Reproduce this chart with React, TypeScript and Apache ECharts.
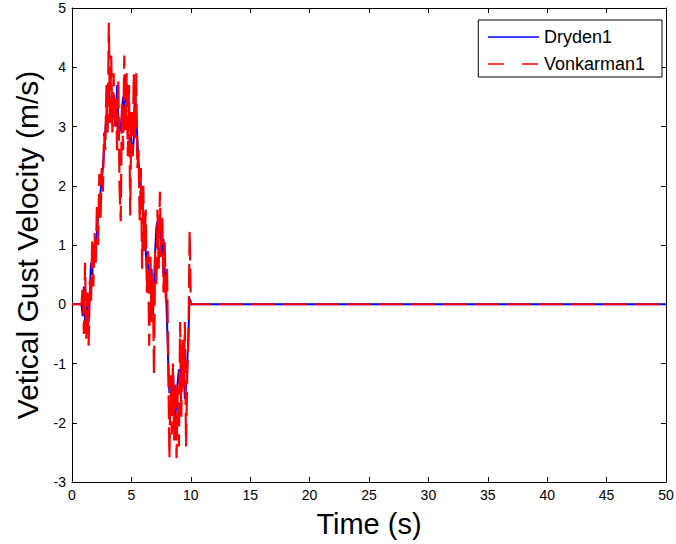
import React, { useEffect, useRef } from "react";
import * as echarts from "echarts";

// sample grid for the gust segment: 0.8 s .. 10.0 s, step 0.1 s
const gustStart = 0.8;
const gustStep = 0.1;
const timeEnd = 50;

const dryden1: number[] = [
  0, -0.2, 0.3, -0.3, -0.4, 0.1, -0.3, 0.2, 0.7, 0.5,
  0.9, 0.8, 1.1, 1.2, 1.5, 1.6, 1.9, 2.1, 2.3, 2.6,
  2.9, 3.2, 3.6, 3.7, 3.4, 3.3, 3.1, 3.4, 3.2, 3.0,
  3.7, 3.1, 2.9, 3.0, 3.2, 3.5, 3.3, 3.8, 3.4, 3.6,
  3.2, 3.0, 2.7, 2.5, 2.8, 3.6, 3.2, 2.8, 2.4, 2.2,
  2.0, 1.8, 1.5, 1.2, 0.9, 0.6, 0.9, 0.4, 0.2, 0.6,
  -0.2, 0.3, 0.9, 1.3, 1.4, 1.2, 1.5, 1.0, 0.8, 1.1,
  0.6, 0.3, -0.3, -1.0, -1.5, -1.3, -1.6, -1.1, -1.7, -1.9,
  -1.6, -1.3, -1.1, -1.4, -0.9, -0.8, -1.2, -1.6, -1.4, -1.0,
  -0.5, 0.1, 0.0,
];

const vonkarman1: number[] = [
  0, 0.3, -0.5, 0.7, -0.6, 0.2, -0.7, 0.4, 0.0, 1.1,
  0.3, 1.2, 0.7, 1.7, 1.0, 2.2, 1.4, 2.3, 1.9, 2.9,
  2.6, 3.7, 2.9, 4.75, 3.0, 4.2, 2.9, 3.9, 3.0, 3.5,
  2.6, 3.8, 2.0, 1.4, 3.4, 2.6, 4.2, 2.9, 3.9, 2.5,
  3.7, 1.5, 3.3, 2.5, 3.9, 2.8, 3.9, 2.3, 2.6, 1.4,
  2.3, 0.6, 2.0, 0.9, 1.6, 0.2, 0.9, -0.7, 0.8, -0.3,
  0.5, -1.2, 0.9, 0.3, 1.6, 0.6, 1.9, 0.8, 1.5, 0.2,
  1.1, 0.0, 0.6, -1.0, -2.6, -1.2, -2.2, -1.0, -2.3, -1.3,
  -2.6, -1.4, -2.4, -0.3, -1.9, -0.6, -1.4, -0.3, -2.4, -1.2,
  -0.6, 1.25, 0.0,
];

const xTicks = { min: 0, max: 50, interval: 5 };
const yTicks = { min: -3, max: 5, interval: 1 };

function toPairs(vals: number[]): [number, number][] {
  const pts: [number, number][] = [[0, 0]];
  vals.forEach((v, i) => {
    pts.push([Number((gustStart + i * gustStep).toFixed(2)), v]);
  });
  pts.push([timeEnd, 0]);
  return pts;
}

const FONT = "Liberation Sans, Arial, sans-serif";

export default function App() {
  const ref = useRef<HTMLDivElement>(null);
  useEffect(() => {
    if (!ref.current) return;
    const chart = echarts.init(ref.current, undefined, { renderer: "svg" });
    const axisLine = { show: true, onZero: false, lineStyle: { color: "#000", width: 1 } };
    const axisTick = { show: true, inside: true, length: 5, lineStyle: { color: "#000" } };
    chart.setOption({
      animation: false,
      backgroundColor: "#fff",
      grid: {
        left: 72,
        right: 10,
        top: 8,
        bottom: 62,
        containLabel: false,
        outerBoundsMode: "none",
      },
      legend: {
        top: 20,
        right: 14,
        orient: "vertical",
        backgroundColor: "#fff",
        borderColor: "#000",
        borderWidth: 1,
        borderRadius: 0,
        padding: [8, 17, 4, 9],
        itemWidth: 51,
        itemHeight: 14,
        itemGap: 9,
        itemStyle: { opacity: 0 },
        textStyle: { fontFamily: FONT, fontSize: 18, color: "#000" },
        data: [
          { name: "Dryden1", lineStyle: { color: "#0000ff", width: 1.3, type: "solid" } },
          { name: "Vonkarman1", lineStyle: { color: "#ff0000", width: 1.3, type: [16, 18] } },
        ],
      },
      xAxis: [
        {
          type: "value",
          ...xTicks,
          position: "bottom",
          axisLine,
          axisTick,
          splitLine: { show: false },
          axisLabel: { color: "#000", fontFamily: FONT, fontSize: 14, margin: 6 },
          name: "Time (s)",
          nameLocation: "middle",
          nameGap: 27,
          nameTextStyle: { fontFamily: FONT, fontSize: 29, color: "#000" },
        },
        {
          type: "value",
          ...xTicks,
          position: "top",
          axisLine,
          axisTick,
          splitLine: { show: false },
          axisLabel: { show: false },
        },
      ],
      yAxis: [
        {
          type: "value",
          ...yTicks,
          position: "left",
          axisLine,
          axisTick,
          splitLine: { show: false },
          axisLabel: { color: "#000", fontFamily: FONT, fontSize: 14, margin: 6 },
          name: "Vetical Gust Velocity (m/s)",
          nameLocation: "middle",
          nameGap: 29,
          nameRotate: 90,
          nameTextStyle: { fontFamily: FONT, fontSize: 30, color: "#000" },
        },
        {
          type: "value",
          ...yTicks,
          position: "right",
          axisLine,
          axisTick,
          splitLine: { show: false },
          axisLabel: { show: false },
        },
      ],
      series: [
        {
          name: "Dryden1",
          type: "line",
          xAxisIndex: 0,
          yAxisIndex: 0,
          symbol: "none",
          showSymbol: false,
          color: "#0000ff",
          lineStyle: { color: "#0000ff", width: 2 },
          data: toPairs(dryden1),
        },
        {
          name: "Vonkarman1",
          type: "line",
          xAxisIndex: 0,
          yAxisIndex: 0,
          symbol: "none",
          showSymbol: false,
          color: "#ff0000",
          lineStyle: { color: "#ff0000", width: 2.2, type: [24, 8] },
          data: toPairs(vonkarman1),
        },
      ],
    });
    return () => chart.dispose();
  }, []);
  return (
    <div
      ref={ref}
      style={{ position: "absolute", left: 0, top: 0, width: 676, height: 544 }}
    />
  );
}
